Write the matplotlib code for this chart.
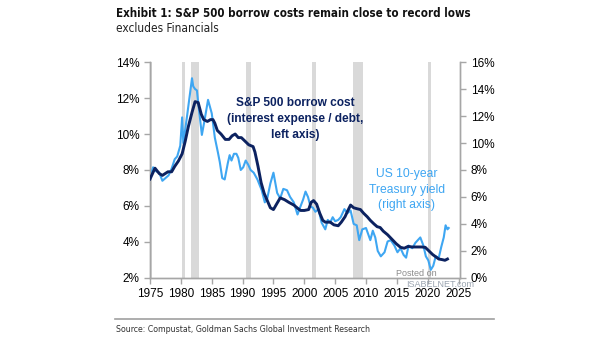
import matplotlib.pyplot as plt

plt.rcParams['font.family'] = ['Liberation Sans', 'DejaVu Sans']

# S&P 500 interest expense / debt (left axis, %)
borrow_years = [1975.0, 1975.8, 1976.5, 1977.0, 1977.9, 1978.5, 1979.0, 1979.6, 1980.2, 1980.7,
                1981.2, 1981.8, 1982.3, 1982.8, 1983.3, 1983.7, 1984.3, 1984.8, 1985.2, 1985.5,
                1985.9, 1986.5, 1987.2, 1987.8, 1988.3, 1988.8, 1989.3, 1989.8, 1990.4, 1991.0,
                1991.7, 1992.0, 1992.5, 1993.0, 1993.5, 1994.0, 1994.5, 1995.0, 1995.5, 1996.1,
                1996.8, 1997.5, 1998.3, 1999.0, 1999.4, 2000.0, 2000.7, 2001.1, 2001.5, 2002.0,
                2002.5, 2003.0, 2003.4, 2004.2, 2004.8, 2005.5, 2006.0, 2006.6, 2007.0, 2007.5,
                2008.0, 2008.5, 2009.1, 2009.6, 2010.2, 2010.7, 2011.3, 2011.8, 2012.3, 2012.8,
                2013.5, 2014.2, 2014.9, 2015.6, 2016.2, 2016.8, 2017.5, 2018.3, 2019.0, 2019.6,
                2020.2, 2020.8, 2021.4, 2021.8, 2022.3, 2022.8, 2023.2]
borrow_cost = [7.5, 8.1, 7.8, 7.7, 7.9, 7.9, 8.2, 8.5, 8.9, 9.6,
               10.4, 11.2, 11.8, 11.75, 11.1, 10.8, 10.7, 10.8, 10.8, 10.6,
               10.2, 10.0, 9.7, 9.7, 9.9, 10.0, 9.8, 9.8, 9.6, 9.4,
               9.3, 9.0, 8.2, 7.3, 6.7, 6.3, 5.9, 5.8, 6.1, 6.45,
               6.35, 6.2, 6.05, 5.85, 5.75, 5.75, 5.8, 6.2, 6.3, 6.1,
               5.6, 5.2, 5.1, 5.1, 4.95, 4.9, 5.1, 5.4, 5.7, 6.05,
               5.9, 5.85, 5.8, 5.6, 5.4, 5.2, 5.0, 4.85, 4.8, 4.6,
               4.4, 4.15, 3.9, 3.7, 3.65, 3.75, 3.72, 3.72, 3.72, 3.7,
               3.5, 3.3, 3.15, 3.05, 3.02, 2.98, 3.05]

# US 10-year Treasury yield (right axis, %)
tsy_years = [1975.0, 1975.5, 1976.0, 1976.5, 1977.0, 1977.5, 1978.0, 1978.5, 1979.0, 1979.4,
             1979.9, 1980.2, 1980.4, 1980.7, 1981.0, 1981.4, 1981.8, 1982.0, 1982.3, 1982.6,
             1982.8, 1983.1, 1983.4, 1983.8, 1984.4, 1984.7, 1985.0, 1985.5, 1986.0, 1986.3,
             1986.7, 1987.1, 1987.6, 1987.9, 1988.2, 1988.6, 1989.0, 1989.3, 1989.7, 1990.1,
             1990.5, 1990.9, 1991.3, 1991.8, 1992.4, 1993.1, 1993.6, 1994.0, 1994.5, 1995.0,
             1995.6, 1996.1, 1996.6, 1997.2, 1997.7, 1998.3, 1998.9, 1999.3, 1999.8, 2000.2,
             2000.6, 2001.0, 2001.4, 2001.8, 2002.3, 2002.8, 2003.4, 2003.8, 2004.2, 2004.6,
             2005.0, 2005.5, 2005.9, 2006.5, 2007.0, 2007.5, 2008.0, 2008.5, 2008.9, 2009.4,
             2010.0, 2010.7, 2011.1, 2011.5, 2011.9, 2012.4, 2013.0, 2013.5, 2014.0, 2014.6,
             2015.1, 2015.6, 2016.1, 2016.5, 2016.9, 2017.5, 2018.0, 2018.8, 2019.3, 2019.7,
             2020.1, 2020.5, 2020.9, 2021.3, 2021.8, 2022.2, 2022.6, 2022.9, 2023.2, 2023.4]
tsy_yield = [7.5, 8.2, 7.9, 7.8, 7.2, 7.4, 7.6, 8.1, 8.8, 9.0,
             9.8, 11.9, 10.0, 11.0, 12.0, 13.4, 14.8, 14.2, 14.0, 13.9,
             13.0, 11.8, 10.6, 11.6, 13.2, 12.7, 12.2, 10.4, 9.3, 8.6,
             7.4, 7.3, 8.5, 9.1, 8.7, 9.2, 9.2, 8.9, 8.0, 8.2,
             8.7, 8.4, 8.0, 7.8, 7.3, 6.5, 5.6, 5.9, 7.0, 7.8,
             6.3, 5.9, 6.6, 6.5, 6.0, 5.6, 4.7, 5.2, 5.8, 6.4,
             6.0, 5.3, 5.2, 4.9, 5.1, 4.1, 3.6, 4.3, 4.1, 4.5,
             4.2, 4.3, 4.5, 5.1, 4.8, 5.0, 4.0, 3.9, 2.8, 3.6,
             3.7, 2.8, 3.5, 3.0, 2.0, 1.6, 1.9, 2.7, 2.8, 2.4,
             1.9, 2.2, 1.7, 1.5, 2.4, 2.2, 2.6, 3.0, 2.4, 1.6,
             1.3, 0.6, 0.9, 1.6, 1.5, 2.3, 3.0, 3.9, 3.6, 3.7]

# US recessions (start, end)
recessions = [(1974.9, 1975.3), (1980.1, 1980.6), (1981.6, 1982.9), (1990.5, 1991.3),
              (2001.2, 2001.9), (2007.9, 2009.5), (2020.0, 2020.5)]

x_ticks = [1975, 1980, 1985, 1990, 1995, 2000, 2005, 2010, 2015, 2020, 2025]
left_ticks = [2, 4, 6, 8, 10, 12, 14]
right_ticks = [0, 2, 4, 6, 8, 10, 12, 14, 16]

NAVY = '#0c2260'
LIGHT = '#3ea6f2'
AXIS_GRAY = '#a6a6a6'
NARROW = dict(family='DejaVu Sans', stretch='condensed')

fig = plt.figure(figsize=(6.05, 3.41), dpi=100)
ax = fig.add_axes([0.248, 0.185, 0.513, 0.633])
ax2 = ax.twinx()

# recession shading sits on the lower (right-axis) layer so both lines stay on top
for start, end in recessions:
    ax2.axvspan(start, end, color='#d9d9d9', lw=0, zorder=0)

ax2.plot(tsy_years, tsy_yield, color=LIGHT, lw=1.5, zorder=3)
ax.plot(borrow_years, borrow_cost, color=NAVY, lw=2.1, zorder=4)
ax.set_zorder(ax2.get_zorder() + 1)
ax.patch.set_visible(False)

ax.set_xlim(1975, 2025.3)
ax.set_ylim(2, 14)
ax2.set_ylim(0, 16)
ax.set_xticks(x_ticks)
ax.set_yticks(left_ticks)
ax.set_yticklabels(['{}%'.format(v) for v in left_ticks])
ax2.set_yticks(right_ticks)
ax2.set_yticklabels(['{}%'.format(v) for v in right_ticks])

for a in (ax, ax2):
    a.spines['top'].set_visible(False)
    for side in ('left', 'right', 'bottom'):
        a.spines[side].set_color(AXIS_GRAY)
        a.spines[side].set_linewidth(1.0)
    a.tick_params(axis='both', colors=AXIS_GRAY, labelcolor='black', labelsize=8.5,
                  length=4, width=1.0, direction='out')
ax.tick_params(axis='x', pad=3)

ax.text(1998.6, 12.05, 'S&P 500 borrow cost\n(interest expense / debt,\nleft axis)',
        color=NAVY, fontsize=8.6, fontweight='bold', ha='center', va='top',
        linespacing=1.45, zorder=5)
ax.text(2016.6, 8.1, 'US 10-year\nTreasury yield\n(right axis)',
        color=LIGHT, fontsize=8.7, ha='center', va='top', linespacing=1.4, zorder=5)

ax.text(2018.2, 2.25, 'Posted on', color='#8c8c8c', fontsize=6.5, ha='center', va='center',
        zorder=6)
ax.text(2022.0, 1.65, 'ISABELNET.com', color='#9aa4b0', fontsize=6.5, ha='center',
        va='center', zorder=6, clip_on=False)

fig.text(0.192, 0.95, 'Exhibit 1: S&P 500 borrow costs remain close to record lows',
         fontweight='bold', fontsize=8.3, color='#111111', va='baseline', **NARROW)
fig.text(0.192, 0.906, 'excludes Financials', fontsize=8.6, color='#222222',
         va='baseline', **NARROW)

fig.add_artist(plt.Line2D([0.19, 0.817], [0.065, 0.065], color='#a0a0a0', lw=1.2))
fig.text(0.192, 0.025, 'Source: Compustat, Goldman Sachs Global Investment Research',
         fontsize=6.3, color='#333333', va='baseline', **NARROW)

fig.savefig('out.png', dpi=100)
